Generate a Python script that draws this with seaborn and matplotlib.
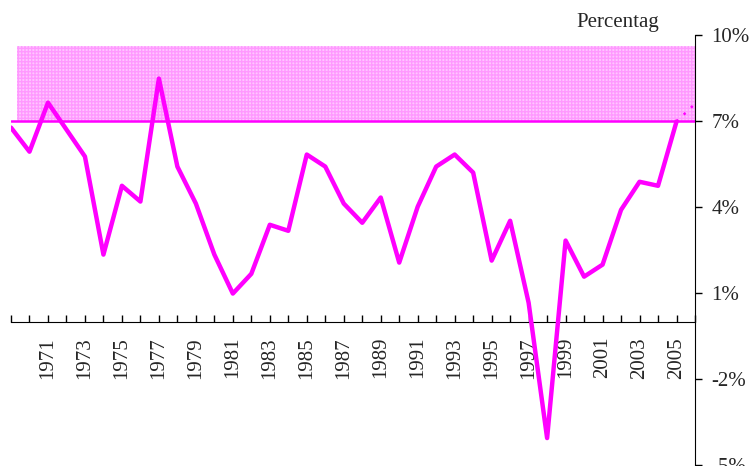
import matplotlib
matplotlib.use("Agg")
import matplotlib.pyplot as plt
import seaborn as sns
import pandas as pd

#%% DATA
years = list(range(1969, 2006))
growth = [6.77, 5.93, 7.64, 6.7, 5.76, 2.34, 4.74, 4.19, 8.48, 5.41,
          4.12, 2.34, 0.98, 1.67, 3.38, 3.17, 5.83, 5.41, 4.12, 3.45,
          4.33, 2.06, 4.01, 5.41, 5.83, 5.2, 2.13, 3.52, 0.66, -4.06,
          2.83, 1.57, 1.99, 3.9, 4.88, 4.74, 6.98]
proj_years = [2005, 2006]
proj_growth = [6.98, 7.6]
band_low, band_high = 7.0, 9.6
yticks = [-5, -2, 1, 4, 7, 10]
tick_years = list(range(1969, 2007))
xlabel_years = list(range(1971, 2006, 2))

df = pd.DataFrame({"year": years, "growth": growth})

#%% PLOT
sns.set_style("white")
plt.rcParams['font.family'] = ['Liberation Serif', 'DejaVu Serif']

fig = plt.figure(figsize=(7.52, 4.66), dpi=100)
ax = fig.add_axes([11 / 752, 1 / 466, 684 / 752, 430 / 466])

# target band
ax.fill_between([1969.3, 2006], band_low, band_high, facecolor='#FFC6FF',
                edgecolor='#FF99FF', hatch='+++++', linewidth=0, zorder=1)
ax.axhline(band_low, color='#FF00FF', lw=1.8, zorder=2)

sns.lineplot(data=df, x="year", y="growth", color='#FF00FF', lw=3.2,
             ax=ax, zorder=3)
ax.plot(proj_years, proj_growth, color='#FF00FF', lw=1.8, ls=(0, (1, 3)), zorder=3)

ax.set_xlim(1969, 2006)
ax.set_ylim(-5, 10)

# right-hand y axis
ax.yaxis.set_ticks_position('right')
ax.set_yticks(yticks)
ax.set_yticklabels([f"{t}%" for t in yticks], fontsize=15)
ax.tick_params(axis='y', which='major', direction='out', length=5, width=1,
               color='black', pad=7, right=True, left=False)

# x axis through zero
ax.spines['bottom'].set_position(('data', 0))
ax.set_xticks(tick_years)
ax.set_xticklabels([str(y) if y in xlabel_years else "" for y in tick_years],
                   rotation=90, fontsize=15, va='top')
ax.tick_params(axis='x', which='major', direction='in', length=5, width=1,
               color='black', bottom=True, pad=11)

for s in ['top', 'left']:
    ax.spines[s].set_visible(False)
ax.spines['right'].set_color('black')
ax.spines['bottom'].set_color('black')
ax.set_xlabel("")
ax.set_ylabel("")

fig.text(618 / 752, 1 - 22 / 466, "Percentag", ha='center', va='center', fontsize=15)

fig.savefig("out.png", dpi=100)
